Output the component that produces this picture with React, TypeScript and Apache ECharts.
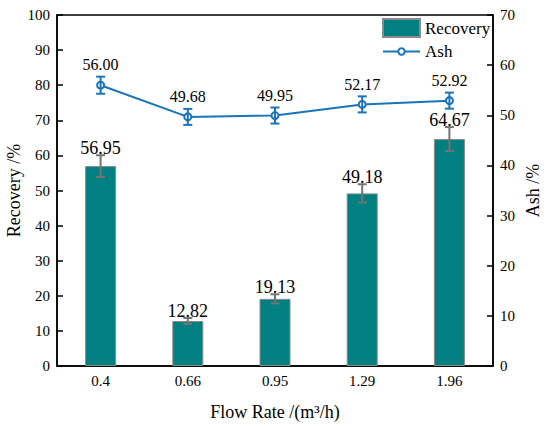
import React, { useEffect, useRef } from "react";
import * as echarts from "echarts";

const categories = ["0.4", "0.66", "0.95", "1.29", "1.96"];
const recovery = [56.95, 12.82, 19.13, 49.18, 64.67];
const recoveryErr = [3.1, 0.85, 1.3, 2.6, 3.4];
const ash = [56.0, 49.68, 49.95, 52.17, 52.92];
const ashErr = [1.7, 1.6, 1.6, 1.6, 1.6];

const FONT = "Liberation Serif";
const TEAL = "#008080";
const BLUE = "#1a74b8";
const GRAY = "#737373";

function errorRender(color: string, capHalf: number, labelOffset: number, fontSize: number) {
  return (params: any, api: any) => {
    const x = api.value(0);
    const v = api.value(1);
    const e = api.value(2);
    const top = api.coord([x, v + e]);
    const bot = api.coord([x, v - e]);
    const style = { stroke: color, lineWidth: 2 };
    return {
      type: "group",
      children: [
        { type: "line", shape: { x1: top[0], y1: top[1], x2: bot[0], y2: bot[1] }, style },
        { type: "line", shape: { x1: top[0] - capHalf, y1: top[1], x2: top[0] + capHalf, y2: top[1] }, style },
        { type: "line", shape: { x1: bot[0] - capHalf, y1: bot[1], x2: bot[0] + capHalf, y2: bot[1] }, style },
        {
          type: "text",
          x: top[0],
          y: top[1] - labelOffset,
          style: {
            text: Number(v).toFixed(2),
            fill: "#000",
            fontSize,
            fontFamily: FONT,
            align: "center",
            verticalAlign: "middle",
          },
        },
      ],
    };
  };
}

export default function App() {
  const ref = useRef<HTMLDivElement>(null);
  useEffect(() => {
    if (!ref.current) return;
    const chart = echarts.init(ref.current, undefined, { renderer: "svg" });
    const axisLabel = { fontSize: 15, fontFamily: FONT, color: "#000", margin: 7 };
    const nameStyle = { fontSize: 18, fontFamily: FONT, color: "#000" };
    chart.setOption({
      animation: false,
      backgroundColor: "#fff",
      textStyle: { fontFamily: FONT },
      grid: {
        left: 57,
        right: 57,
        top: 15,
        bottom: 60,
        outerBoundsMode: "none",
        containLabel: false,
        show: true,
        borderColor: "#000",
        borderWidth: 1.5,
        backgroundColor: "transparent",
      },
      legend: [
        {
          data: [{ name: "Recovery", icon: "rect" }],
          left: 377,
          top: 13,
          itemWidth: 37,
          itemHeight: 18,
          textStyle: { fontSize: 17, fontFamily: FONT, color: "#000" },
        },
        {
          data: ["Ash"],
          left: 377,
          top: 38,
          itemWidth: 37,
          itemHeight: 8,
          textStyle: { fontSize: 17, fontFamily: FONT, color: "#000" },
        },
      ],
      xAxis: {
        type: "category",
        data: categories,
        name: "Flow Rate /(m³/h)",
        nameLocation: "middle",
        nameGap: 37,
        nameMoveOverlap: false,
        nameTextStyle: nameStyle,
        axisLine: { lineStyle: { color: "#000", width: 1.5 } },
        axisTick: { show: false },
        axisLabel,
      },
      yAxis: [
        {
          type: "value",
          min: 0,
          max: 100,
          interval: 10,
          name: "Recovery /%",
          nameLocation: "middle",
          nameGap: 34,
          nameMoveOverlap: false,
          nameTextStyle: nameStyle,
          axisLine: { show: true, lineStyle: { color: "#000", width: 1.5 } },
          axisTick: { show: true, inside: true, length: 6, lineStyle: { color: "#000", width: 1.5 } },
          splitLine: { show: false },
          axisLabel,
        },
        {
          type: "value",
          min: 0,
          max: 70,
          interval: 10,
          position: "right",
          name: "Ash /%",
          nameLocation: "middle",
          nameGap: 31,
          nameMoveOverlap: false,
          nameTextStyle: nameStyle,
          axisLine: { show: true, lineStyle: { color: "#000", width: 1.5 } },
          axisTick: { show: true, inside: true, length: 6, lineStyle: { color: "#000", width: 1.5 } },
          splitLine: { show: false },
          axisLabel,
        },
      ],
      series: [
        {
          name: "Recovery",
          type: "bar",
          data: recovery,
          barWidth: 31,
          yAxisIndex: 0,
          itemStyle: { color: TEAL, borderColor: "#8a8a8a", borderWidth: 1 },
          z: 2,
        },
        {
          name: "RecoveryErr",
          type: "custom",
          yAxisIndex: 0,
          data: recovery.map((v, i) => [i, v, recoveryErr[i]]),
          encode: { x: 0, y: 1 },
          renderItem: errorRender(GRAY, 4.5, 7, 18),
          z: 3,
          silent: true,
        },
        {
          name: "Ash",
          type: "line",
          data: ash,
          yAxisIndex: 1,
          symbol: "emptyCircle",
          symbolSize: 7,
          lineStyle: { color: BLUE, width: 2 },
          itemStyle: { color: BLUE, borderWidth: 2 },
          z: 4,
        },
        {
          name: "AshErr",
          type: "custom",
          yAxisIndex: 1,
          data: ash.map((v, i) => [i, v, ashErr[i]]),
          encode: { x: 0, y: 1 },
          renderItem: errorRender(BLUE, 4.5, 12, 16),
          z: 5,
          silent: true,
        },
      ],
    });
    return () => chart.dispose();
  }, []);
  return (
    <div
      ref={ref}
      style={{ position: "fixed", left: 0, top: 0, width: 550, height: 426, background: "#fff" }}
    />
  );
}
